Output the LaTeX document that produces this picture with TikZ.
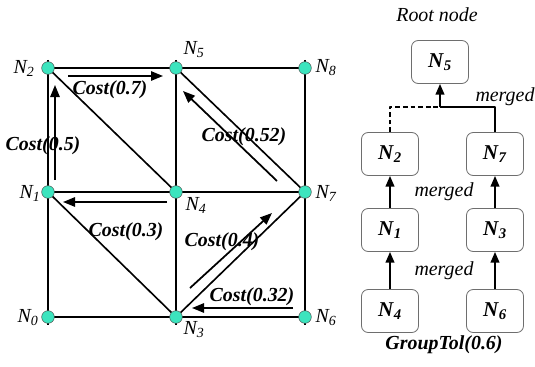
\documentclass[tikz,border=0pt]{standalone}
\usepackage{fontspec}
\setmainfont{Liberation Serif}
\usetikzlibrary{arrows.meta,backgrounds}
\definecolor{nodecyan}{RGB}{60,228,190}
\definecolor{boxgray}{RGB}{110,110,110}
\newcommand{\gn}[1]{\textit{N}\textsubscript{\textit{#1}}}
\newcommand{\bn}[1]{\textbf{\textit{N}\textsubscript{\textit{#1}}}}
\tikzset{
    lab/.style={
        font=\fontsize{17}{20}\selectfont\itshape
    }
}

\begin{document}
\begin{tikzpicture}[x=0.03cm,y=-0.03cm, line join=round]

\tikzset{
  pt/.style={circle, draw=black!70, fill=nodecyan, line width=0.4pt, minimum size=0.38cm, inner sep=0pt},
  grid/.style={line width=1.4pt},
  stub/.style={grid, shorten <=-2.4mm, shorten >=-2.4mm},
  cost/.style={-{Triangle[length=3.6mm,width=2.8mm]}, line width=1.5pt},
  costlab/.style={font=\fontsize{17}{20}\selectfont\bfseries\itshape},
  box/.style={draw=boxgray, rounded corners=2mm, line width=0.7pt, minimum width=1.71cm, minimum height=1.29cm, font=\fontsize{18}{21}\selectfont},
  up/.style={-{Triangle[length=3.2mm,width=2.6mm]}, line width=1.5pt}
}
\useasboundingbox (0,0) rectangle (535,367);

% grid points
\node[pt] (n2) at (48,68) {};
\node[pt] (n5) at (176,68) {};
\node[pt] (n8) at (305,68) {};
\node[pt] (n1) at (48,192) {};
\node[pt] (n4) at (176,192) {};
\node[pt] (n7) at (305,192) {};
\node[pt] (n0) at (48,317) {};
\node[pt] (n3) at (176,317) {};
\node[pt] (n6) at (305,317) {};

\begin{pgfonlayer}{background}
\draw[stub] (n2.center) -- (n0.center);
\draw[stub] (n5.center) -- (n3.center);
\draw[stub] (n8.center) -- (n6.center);
\draw[grid] (n2.center) -- (n8.center);
\draw[grid] (n1.center) -- (n7.center);
\draw[grid] (n0.center) -- (n6.center);
\draw[grid] (n2.center) -- (n4.center);
\draw[grid] (n5.center) -- (n7.center);
\draw[grid] (n1.center) -- (n3.center);
\draw[grid] (n3.center) -- (n7.center);
\end{pgfonlayer}

\node[lab] (l2) at (24,68) {\gn{2}};
\node[lab] (l5) at (194,50) {\gn{5}};
\node[lab] (l8) at (326,68) {\gn{8}};
\node[lab] (l1) at (30,193) {\gn{1}};
\node[lab] (l4) at (196,205) {\gn{4}};
\node[lab] (l7) at (326,193) {\gn{7}};
\node[lab] (l0) at (28,318) {\gn{0}};
\node[lab] (l3) at (194,330) {\gn{3}};
\node[lab] (l6) at (326,318) {\gn{6}};

% cost arrows
\coordinate (a7s) at (68,76);   \coordinate (a7e) at (163,76);
\coordinate (a5s) at (55,180);  \coordinate (a5e) at (55,85);
\coordinate (a52s) at (277,181); \coordinate (a52e) at (183,91);
\coordinate (a3s) at (167,202); \coordinate (a3e) at (63,202);
\coordinate (a4s) at (190,288); \coordinate (a4e) at (272,213);
\coordinate (a32s) at (293,308); \coordinate (a32e) at (192,308);

\draw[cost] (a7s) -- (a7e);
\draw[cost] (a5s) -- (a5e);
\draw[cost] (a52s) -- (a52e);
\draw[cost] (a3s) -- (a3e);
\draw[cost] (a4s) -- (a4e);
\draw[cost] (a32s) -- (a32e);

\node[costlab] (c7) at (110,90) {Cost(0.7)};
\node[costlab] (c5) at (43,146) {Cost(0.5)};
\node[costlab] (c52) at (244,137) {Cost(0.52)};
\node[costlab] (c3) at (126,232) {Cost(0.3)};
\node[costlab] (c4) at (222,242) {Cost(0.4)};
\node[costlab] (c32) at (252,297) {Cost(0.32)};

% merge tree
\node[box] (t5) at (440,62) {\bn{5}};
\node[box] (t2) at (390,154) {\bn{2}};
\node[box] (t7) at (495,154) {\bn{7}};
\node[box] (t1) at (390,230) {\bn{1}};
\node[box] (t3) at (495,230) {\bn{3}};
\node[box] (t4) at (390,311) {\bn{4}};
\node[box] (t6) at (495,311) {\bn{6}};

\coordinate (join) at (440,107);
\draw[line width=1.2pt] (t7.north) |- (join);
\draw[line width=1.2pt, dash pattern=on 4pt off 2.5pt] (t2.north) |- (join);
\draw[up] (join) -- (t5.south);
\draw[up] (t1) -- (t2);
\draw[up] (t4) -- (t1);
\draw[up] (t3) -- (t7);
\draw[up] (t6) -- (t3);

\node[lab] (root) at (437,15) {Root node};
\node[lab] (m1) at (505,97) {merged};
\node[lab] (m2) at (444,192) {merged};
\node[lab] (m3) at (444,271) {merged};
\node[costlab] (tol) at (444,345) {GroupTol(0.6)};

\end{tikzpicture}
\end{document}
